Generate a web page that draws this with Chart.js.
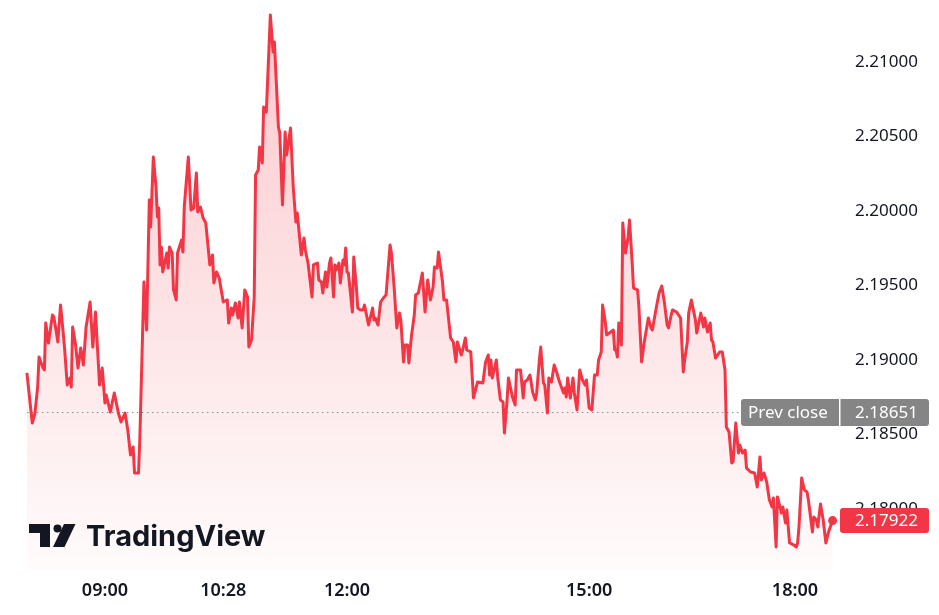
<!DOCTYPE html>
<html>
<head>
<meta charset="utf-8">
<script src="https://cdn.jsdelivr.net/npm/chart.js@4.4.1/dist/chart.umd.min.js"></script>
<style>
  html, body { margin: 0; padding: 0; background: #fff; }
  #wrap { position: relative; width: 939px; height: 615px; }
</style>
</head>
<body>
<div id="wrap"><canvas id="chart" width="939" height="615"></canvas></div>
<script>
// minute bar index of each point (0 = session start)
const bars = [
  0, 4, 6, 8, 9, 12, 13, 14, 16, 19, 20, 22, 23, 25, 27, 28, 30, 32, 33, 34,
  36, 38, 40, 42, 44, 47, 49, 51, 54, 56, 58, 59, 62, 65, 68, 70, 73, 75, 77, 79,
  80, 83, 84, 87, 89, 91, 92, 94, 96, 97, 98, 99, 100, 101, 104, 105, 106, 108, 109, 111,
  112, 115, 116, 117, 120, 122, 124, 126, 127, 129, 131, 133, 136, 138, 139, 141, 143, 146, 149, 150,
  152, 153, 155, 157, 158, 160, 162, 164, 165, 167, 169, 170, 172, 173, 175, 176, 178, 181, 183, 184,
  187, 188, 190, 192, 193, 194, 196, 198, 200, 201, 204, 206, 207, 209, 212, 213, 216, 217, 219, 220,
  222, 223, 225, 226, 228, 229, 230, 232, 233, 235, 236, 237, 238, 239, 242, 243, 245, 246, 248, 250,
  251, 254, 257, 258, 259, 261, 263, 265, 267, 270, 271, 273, 275, 277, 278, 280, 281, 283, 284, 286,
  288, 289, 291, 294, 296, 298, 300, 302, 303, 305, 306, 309, 310, 312, 315, 317, 319, 320, 323, 324,
  326, 327, 330, 332, 335, 339, 341, 343, 344, 345, 346, 349, 350, 352, 354, 355, 357, 358, 361, 363,
  364, 367, 369, 370, 372, 374, 376, 378, 379, 381, 382, 384, 385, 387, 388, 390, 392, 394, 396, 399,
  400, 401, 402, 404, 406, 407, 409, 411, 413, 415, 416, 418, 420, 422, 424, 425, 427, 428, 430, 431,
  433, 436, 437, 438, 439, 440, 442, 443, 445, 447, 448, 450, 451, 454, 455, 457, 459, 462, 464, 465,
  468, 470, 472, 474, 476, 477, 479, 480, 483, 486, 488, 489, 491, 492, 494, 497, 498, 501, 503, 504,
  506, 508, 509, 510, 512, 515, 517, 519, 520, 522, 524, 525, 527, 529, 530, 532, 534, 535, 538, 541,
  543, 545, 546, 548, 550, 552, 554, 555, 557, 558, 561, 562, 564, 565, 567, 570, 572, 573, 574, 576,
  578, 580, 581, 584, 585, 587, 588, 590, 592, 594, 596, 597, 599
];

const prices = [
  2.18913, 2.18577, 2.18644, 2.18819, 2.19020, 2.18946, 2.18933, 2.19248, 2.19114, 2.19302,
  2.19289, 2.19181, 2.19121, 2.19369, 2.19181, 2.19081, 2.18832, 2.18879, 2.18819, 2.19222,
  2.19114, 2.18946, 2.19081, 2.18967, 2.19222, 2.19389, 2.19087, 2.19322, 2.18832, 2.18946,
  2.18712, 2.18765, 2.18651, 2.18779, 2.18644, 2.18584, 2.18644, 2.18530, 2.18363, 2.18416,
  2.18242, 2.18242, 2.18483, 2.19524, 2.19201, 2.20074, 2.19893, 2.20362, 2.20161, 2.19960,
  2.20020, 2.19638, 2.19758, 2.19591, 2.19718, 2.19617, 2.19758, 2.19718, 2.19470, 2.19403,
  2.19718, 2.19805, 2.19725, 2.20027, 2.20362, 2.20007, 2.20020, 2.20255, 2.19993, 2.20027,
  2.19953, 2.19919, 2.19638, 2.19705, 2.19517, 2.19591, 2.19550, 2.19389, 2.19403, 2.19248,
  2.19349, 2.19302, 2.19383, 2.19282, 2.19389, 2.19215, 2.19470, 2.19423, 2.19087, 2.19134,
  2.19423, 2.20242, 2.20275, 2.20430, 2.20322, 2.20698, 2.20664, 2.21315, 2.21067, 2.21134,
  2.20564, 2.20523, 2.20040, 2.20530, 2.20376, 2.20430, 2.20557, 2.20161, 2.19926, 2.19987,
  2.19705, 2.19819, 2.19738, 2.19651, 2.19423, 2.19638, 2.19651, 2.19537, 2.19524, 2.19450,
  2.19591, 2.19490, 2.19651, 2.19685, 2.19423, 2.19638, 2.19604, 2.19651, 2.19517, 2.19671,
  2.19638, 2.19752, 2.19591, 2.19584, 2.19322, 2.19691, 2.19483, 2.19349, 2.19336, 2.19336,
  2.19369, 2.19235, 2.19349, 2.19269, 2.19282, 2.19235, 2.19389, 2.19416, 2.19436, 2.19772,
  2.19718, 2.19490, 2.19215, 2.19315, 2.19269, 2.18987, 2.19101, 2.19101, 2.18980, 2.19168,
  2.19302, 2.19436, 2.19450, 2.19584, 2.19322, 2.19537, 2.19403, 2.19490, 2.19624, 2.19617,
  2.19725, 2.19524, 2.19403, 2.19403, 2.19148, 2.19121, 2.18987, 2.19121, 2.19034, 2.19067,
  2.19148, 2.19067, 2.19054, 2.18745, 2.18852, 2.18846, 2.18987, 2.19034, 2.18899, 2.19000,
  2.18879, 2.19000, 2.18886, 2.18732, 2.18718, 2.18510, 2.18732, 2.18879, 2.18752, 2.18698,
  2.18933, 2.18933, 2.18745, 2.18852, 2.18866, 2.18899, 2.18785, 2.18732, 2.18779, 2.19000,
  2.19087, 2.18846, 2.18832, 2.18644, 2.18879, 2.18852, 2.18967, 2.18913, 2.18852, 2.18779,
  2.18812, 2.18752, 2.18879, 2.18745, 2.18879, 2.18779, 2.18665, 2.18933, 2.18866, 2.18832,
  2.18866, 2.18678, 2.18665, 2.18899, 2.18899, 2.19000, 2.19054, 2.19369, 2.19255, 2.19168,
  2.19181, 2.19201, 2.19067, 2.19067, 2.19020, 2.19248, 2.19101, 2.19919, 2.19718, 2.19826,
  2.19940, 2.19651, 2.19483, 2.19470, 2.19356, 2.18987, 2.19121, 2.19282, 2.19215, 2.19201,
  2.19356, 2.19450, 2.19497, 2.19383, 2.19235, 2.19215, 2.19302, 2.19336, 2.19322, 2.19282,
  2.18920, 2.19000, 2.19121, 2.19315, 2.19403, 2.19269, 2.19181, 2.19315, 2.19222, 2.19282,
  2.19188, 2.19248, 2.19134, 2.19121, 2.19013, 2.19054, 2.19054, 2.18933, 2.18550, 2.18517,
  2.18309, 2.18316, 2.18577, 2.18376, 2.18430, 2.18376, 2.18396, 2.18275, 2.18248, 2.18242,
  2.18148, 2.18349, 2.18195, 2.18242, 2.18181, 2.18061, 2.18014, 2.18074, 2.17745, 2.18081,
  2.17973, 2.18014, 2.17906, 2.17993, 2.17772, 2.17759, 2.17745, 2.17772, 2.17879, 2.18208,
  2.18128, 2.18114, 2.18061, 2.17846, 2.17946, 2.17926, 2.17879, 2.18034, 2.17926, 2.17772,
  2.17846, 2.17873, 2.17922
];

const tickBars = [58, 146, 238, 418, 571];
const tickLabels = ['09:00', '10:28', '12:00', '15:00', '18:00'];
const yTicks = [2.18, 2.185, 2.19, 2.195, 2.2, 2.205, 2.21];
const prevClose = 2.18651;
const lastPrice = 2.17922;

const RED = '#F23645';
const TEXT = '#131722';
const FONT = '"Noto Sans", "DejaVu Sans", sans-serif';

function roundRect(ctx, x, y, w, h, r) {
  ctx.beginPath();
  ctx.moveTo(x + r, y);
  ctx.lineTo(x + w - r, y);
  ctx.quadraticCurveTo(x + w, y, x + w, y + r);
  ctx.lineTo(x + w, y + h - r);
  ctx.quadraticCurveTo(x + w, y + h, x + w - r, y + h);
  ctx.lineTo(x + r, y + h);
  ctx.quadraticCurveTo(x, y + h, x, y + h - r);
  ctx.lineTo(x, y + r);
  ctx.quadraticCurveTo(x, y, x + r, y);
  ctx.closePath();
}

// prev close dotted line, price labels and logo
const overlay = {
  id: 'overlay',
  beforeDatasetsDraw(chart) {
    const {ctx, scales: {x, y}} = chart;
    const py = Math.round(y.getPixelForValue(prevClose)) + 0.5;
    ctx.save();
    ctx.strokeStyle = '#8a8d96';
    ctx.lineWidth = 1;
    ctx.setLineDash([1.5, 3.5]);
    ctx.beginPath();
    ctx.moveTo(x.getPixelForValue(bars[0]), py);
    ctx.lineTo(741, py);
    ctx.stroke();
    ctx.restore();
  },
  afterDraw(chart) {
    const {ctx, scales: {y}} = chart;
    ctx.save();
    ctx.font = '17px ' + FONT;
    ctx.textBaseline = 'middle';
    ctx.textAlign = 'left';

    // prev close label
    const pc = y.getPixelForValue(prevClose);
    ctx.fillStyle = '#858585';
    roundRect(ctx, 741, pc - 13, 188, 27, 3);
    ctx.fill();
    ctx.fillStyle = '#ffffff';
    ctx.fillRect(839, pc - 13, 1.5, 27);
    ctx.fillText('Prev close', 748, pc + 1);
    ctx.fillText(prevClose.toFixed(5), 855, pc + 1);

    // last price label
    const lp = y.getPixelForValue(lastPrice);
    ctx.fillStyle = RED;
    roundRect(ctx, 840, lp - 12.5, 89, 25, 3);
    ctx.fill();
    ctx.fillStyle = '#ffffff';
    ctx.fillText(lastPrice.toFixed(5), 855, lp + 1);

    // TradingView logo
    ctx.fillStyle = TEXT;
    ctx.fillRect(29, 524, 21, 9);
    ctx.fillRect(40, 524, 10, 23);
    ctx.beginPath();
    ctx.arc(57.5, 528.5, 4, 0, Math.PI * 2);
    ctx.fill();
    ctx.beginPath();
    ctx.moveTo(64, 524);
    ctx.lineTo(75.5, 524);
    ctx.lineTo(64.5, 547);
    ctx.lineTo(53, 547);
    ctx.closePath();
    ctx.fill();
    ctx.font = '700 29px Inter, "Noto Sans", sans-serif';
    ctx.textBaseline = 'alphabetic';
    ctx.fillText('TradingView', 86, 546);
    ctx.restore();
  }
};

new Chart(document.getElementById('chart'), {
  type: 'line',
  data: {
    datasets: [{
      data: bars.map((b, i) => ({x: b, y: prices[i]})),
      borderColor: RED,
      borderWidth: 3,
      borderJoinStyle: 'round',
      tension: 0,
      clip: false,
      pointRadius: ctx => ctx.dataIndex === bars.length - 1 ? 4.5 : 0,
      pointBackgroundColor: RED,
      pointBorderWidth: 0,
      fill: 'start',
      backgroundColor: ctx => {
        const a = ctx.chart.chartArea;
        if (!a) return 'rgba(242,54,69,0.1)';
        const g = ctx.chart.ctx.createLinearGradient(0, a.top, 0, a.bottom);
        g.addColorStop(0, 'rgba(242,54,69,0.28)');
        g.addColorStop(1, 'rgba(242,54,69,0.02)');
        return g;
      }
    }]
  },
  options: {
    responsive: false,
    animation: false,
    layout: {padding: 0, autoPadding: false},
    plugins: {legend: {display: false}, tooltip: {enabled: false}},
    scales: {
      x: {
        type: 'linear',
        min: -20,
        max: 604.5,
        grid: {display: false, drawTicks: false},
        border: {display: false},
        afterBuildTicks: s => { s.ticks = tickBars.map(v => ({value: v})); },
        afterFit: s => { s.height = 45; s.paddingLeft = 0; s.paddingRight = 0; s.paddingTop = 0; s.paddingBottom = 0; },
        ticks: {
          autoSkip: false,
          maxRotation: 0,
          padding: 10,
          color: TEXT,
          font: {family: FONT, size: 18, weight: '600'},
          callback: v => tickLabels[tickBars.indexOf(v)]
        }
      },
      y: {
        position: 'right',
        min: 2.175906,
        max: 2.214161,
        grid: {display: false, drawTicks: false},
        border: {display: false},
        afterBuildTicks: s => { s.ticks = yTicks.map(v => ({value: v})); },
        afterFit: s => { s.width = 99; s.paddingTop = 0; s.paddingBottom = 0; s.paddingLeft = 0; s.paddingRight = 0; },
        ticks: {
          padding: 15,
          color: TEXT,
          font: {family: FONT, size: 17},
          callback: v => v.toFixed(5)
        }
      }
    }
  },
  plugins: [overlay]
});
</script>
</body>
</html>
